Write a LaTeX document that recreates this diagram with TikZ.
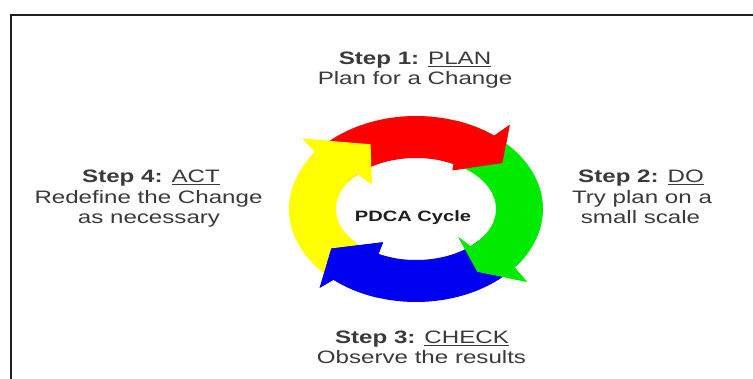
\documentclass[tikz,border=0pt]{standalone}
\usepackage{fontspec}
\setmainfont{Liberation Sans}
\usepackage{graphicx}
\definecolor{pred}{RGB}{255,0,0}
\definecolor{pgreen}{RGB}{0,235,0}
\definecolor{pblue}{RGB}{0,0,240}
\definecolor{pyellow}{RGB}{255,255,0}
\definecolor{txt}{RGB}{58,58,58}
\newcommand\sk[1]{\scalebox{1.34}[1]{#1}}
\newcommand\rp[3]{\coordinate (#1) at ({416+(80+47*(#3))*cos(#2)},{209-(51+42*(#3))*sin(#2)});}
\newcommand\arr[5]{\fill[#1] plot[domain=#2:#3,samples=40] ({416+127*cos(\x)},{209-93*sin(\x)}) -- (#5ob) -- (#5t) -- (#5ib) -- plot[domain=#4:#2,samples=40] ({416+80*cos(\x)},{209-51*sin(\x)}) -- cycle;}
\begin{document}
\begin{tikzpicture}[x=1pt,y=-1pt,
  lbl/.style={anchor=base, text=txt, font=\fontsize{18}{21}\selectfont, inner sep=0pt},
  frame/.style={draw=black!88, line width=1.4pt}]
\useasboundingbox (0,0) rectangle (753,379);
\fill[white] (0,0) rectangle (753,379);
\coordinate (fbl) at (11,379);
\coordinate (ftl) at (11,15);
\coordinate (ftr) at (753,15);
\draw[frame] (fbl) -- (ftl) -- (ftr);
% arrow head points
\rp{yob}{140.5}{1.42} \rp{yt}{116}{0.5} \rp{yib}{135}{-0.37}
\rp{rob}{50}{1.4} \rp{rt}{37}{0.6} \rp{rib}{60}{-0.15}
\rp{gob}{-41}{1.43} \rp{gt}{-55.5}{0.6} \rp{gib}{-49}{-0.33}
\rp{bob}{227.5}{1.33} \rp{bt}{214}{0.47} \rp{bib}{240}{-0.3}
% bands
\arr{pyellow}{247}{142.5}{137}{y}
\arr{pred}{147.5}{52}{62}{r}
\arr{pgreen}{67}{-39}{-47}{g}
\arr{pblue}{326}{229.5}{242}{b}
% heads on top
\arr{pyellow}{152.5}{142.5}{137}{y}
\arr{pred}{72}{52}{62}{r}
\arr{pgreen}{-29}{-39}{-47}{g}
\arr{pblue}{252}{229.5}{242}{b}
% centre
\node[anchor=base, inner sep=0pt, text=black!88, font=\bfseries\fontsize{15}{18}\selectfont] (pdca) at (413,222) {\sk{PDCA Cycle}};
% labels
\node[lbl] (s1) at (415,65) {\sk{\textbf{Step 1:} \underline{PLAN}}};
\node[lbl] (s1b) at (415,84.5) {\sk{Plan for a Change}};
\node[lbl] (s2) at (641,183) {\sk{\textbf{Step 2:} \underline{DO}}};
\node[lbl] (s2b) at (642,203.5) {\sk{Try plan on a}};
\node[lbl] (s2c) at (640.5,224) {\sk{small scale}};
\node[lbl] (s3) at (422,343.5) {\sk{\textbf{Step 3:} \underline{CHECK}}};
\node[lbl] (s3b) at (421.5,364) {\sk{Observe the results}};
\node[lbl] (s4) at (151,183) {\sk{\textbf{Step 4:} \underline{ACT}}};
\node[lbl] (s4b) at (148.5,204) {\sk{Redefine the Change}};
\node[lbl] (s4c) at (149,224) {\sk{as necessary}};
\end{tikzpicture}
\end{document}
